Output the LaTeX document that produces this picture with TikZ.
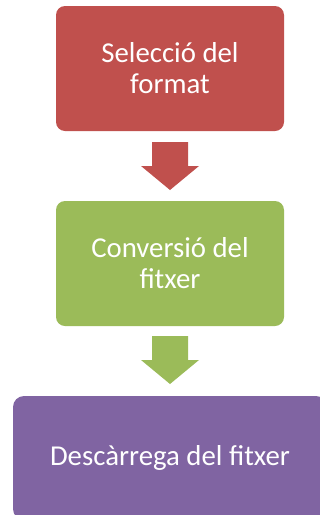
\documentclass[tikz,border=0pt]{standalone}
\usepackage{fontspec}
\setmainfont{Carlito}
\usepackage{tikz}

\definecolor{boxred}{HTML}{C0504D}
\definecolor{boxgreen}{HTML}{9BBB59}
\definecolor{boxpurple}{HTML}{8064A2}

\begin{document}
\begin{tikzpicture}[x=1pt,y=-1pt,
    stepbox/.style={rectangle, rounded corners=9pt, inner sep=0pt,
      minimum width=228pt, minimum height=125pt, text=white, align=center,
      font=\fontsize{28.8}{31}\selectfont}]

  \useasboundingbox (0,0) rectangle (320,515);
  \clip (0,0) rectangle (320,515);

  % boxes
  \node[stepbox, fill=boxred] (sel) at (170,68.5) {Selecció del\\format};
  \node[stepbox, fill=boxgreen] (conv) at (170,263.5) {Conversió del\\fitxer};
  \node[stepbox, fill=boxpurple, minimum width=314pt, minimum height=124pt,
    rounded corners=11pt] (desc) at (170,458) {Descàrrega del fitxer};

  % block arrows
  \foreach \top/\col in {142/boxred, 336/boxgreen}
  \fill[\col] (152,\top) -- (188,\top) -- (188,\top+24) -- (199,\top+24)
    -- (170,\top+48) -- (141,\top+24) -- (152,\top+24) -- cycle;

\end{tikzpicture}
\end{document}
